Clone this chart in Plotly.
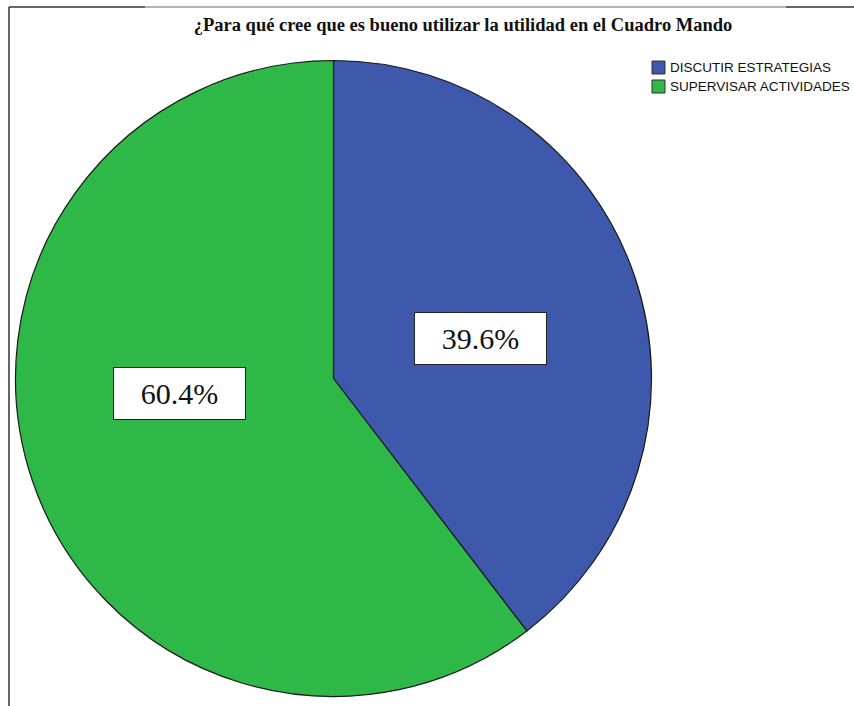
import plotly.graph_objects as go

categories = ["DISCUTIR ESTRATEGIAS", "SUPERVISAR ACTIVIDADES"]
values = [39.6, 60.4]
colors = ["#3E58AC", "#2EB848"]
label_texts = [f"{v:.1f}%" for v in values]

W, H = 854, 706

fig = go.Figure(go.Pie(
    labels=categories,
    values=values,
    sort=False,
    direction="clockwise",
    rotation=0,
    textinfo="none",
    marker=dict(colors=colors, line=dict(color="#1a1a1a", width=1.2)),
    domain=dict(x=[15.5 / W, 651.5 / W], y=[1 - 698 / H, 1 - 59 / H]),
    showlegend=False,
))

# label boxes (placement)
label_pos = [(481 / W, 1 - 338.5 / H), (179 / W, 1 - 393 / H)]
annotations = []
for txt, (px, py) in zip(label_texts, label_pos):
    annotations.append(dict(
        text=txt, x=px, y=py, xref="paper", yref="paper",
        xanchor="center", yanchor="middle", showarrow=False,
        font=dict(family="Liberation Serif", size=30, color="#111"),
        bgcolor="white", bordercolor="#222", borderwidth=1,
        width=129, height=49, borderpad=1,
    ))

# custom legend
shapes = []
for i, (cat, col) in enumerate(zip(categories, colors)):
    top = 61 + i * 19
    shapes.append(dict(type="rect", xref="paper", yref="paper",
                       x0=652 / W, x1=665 / W, y0=1 - (top + 13) / H, y1=1 - top / H,
                       fillcolor=col, line=dict(color="#333", width=1)))
    annotations.append(dict(
        text=cat, x=668 / W, y=1 - (top + 6.5) / H, xref="paper", yref="paper",
        xanchor="left", yanchor="middle", showarrow=False,
        font=dict(family="Liberation Sans", size=13.5, color="#111"),
    ))

# frame lines
line_dark = "#333333"
shapes += [
    dict(type="line", xref="paper", yref="paper", x0=9 / W, x1=9 / W, y0=0, y1=1 - 7 / H,
         line=dict(color=line_dark, width=1.5)),
    dict(type="line", xref="paper", yref="paper", x0=9 / W, x1=145 / W, y0=1 - 7 / H, y1=1 - 7 / H,
         line=dict(color=line_dark, width=1.5)),
    dict(type="line", xref="paper", yref="paper", x0=145 / W, x1=786 / W, y0=1 - 7 / H, y1=1 - 7 / H,
         line=dict(color="#9a9a9a", width=1.5)),
    dict(type="line", xref="paper", yref="paper", x0=786 / W, x1=1, y0=1 - 7 / H, y1=1 - 7 / H,
         line=dict(color=line_dark, width=1.5)),
]

fig.update_layout(
    width=W, height=H,
    margin=dict(l=0, r=0, t=0, b=0),
    paper_bgcolor="white",
    plot_bgcolor="white",
    title=dict(
        text="<b>¿Para qué cree que es bueno utilizar la utilidad en el Cuadro Mando</b>",
        x=463 / W, xanchor="center", y=1 - 25 / H, yanchor="middle",
        xref="paper", yref="container",
        font=dict(family="Liberation Serif", size=18.5, color="#111"),
    ),
    annotations=annotations,
    shapes=shapes,
)

fig.write_html("out.html")
